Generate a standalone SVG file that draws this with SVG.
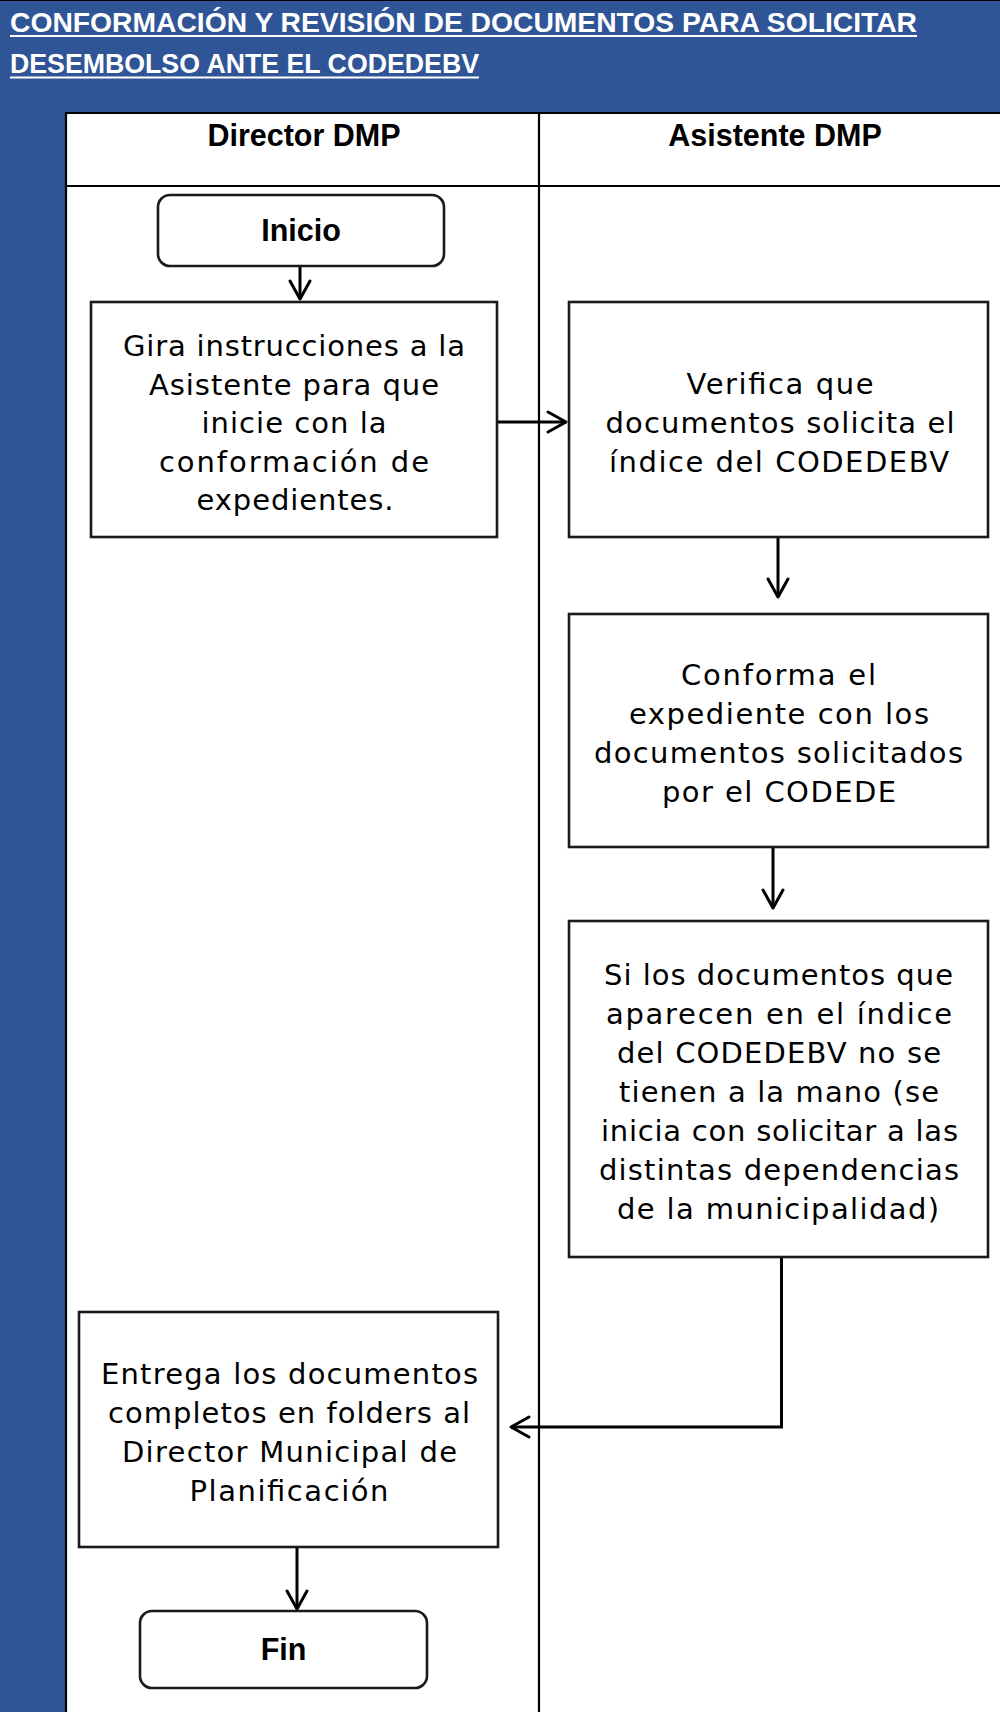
<svg xmlns="http://www.w3.org/2000/svg" width="1000" height="1712" viewBox="0 0 1000 1712">
<style>
.title{font-family:"Liberation Sans",Arial,sans-serif;font-weight:bold;font-size:28px;fill:#ffffff}
.lane{font-family:"Liberation Sans",Arial,sans-serif;font-weight:bold;font-size:30.5px;fill:#000;text-anchor:middle}
.term{font-family:"Liberation Sans",Arial,sans-serif;font-weight:bold;font-size:30.5px;fill:#000;text-anchor:middle}
.body{font-family:"DejaVu Sans","Liberation Sans",sans-serif;font-size:29px;fill:#000;text-anchor:middle}
.box{fill:#fff;stroke:#1a1a1a;stroke-width:2.6}
.rule{stroke:#000;stroke-width:2.2;fill:none}
.conn{stroke:#000;stroke-width:3;fill:none}
</style>
<defs>
<marker id="arr" markerUnits="userSpaceOnUse" markerWidth="26" markerHeight="26" refX="21" refY="13" orient="auto">
<path d="M3,3 L21,13 L3,23" fill="none" stroke="#000" stroke-width="3" stroke-linecap="round" stroke-linejoin="round"/>
</marker>
</defs>
<rect x="0" y="0" width="1000" height="1712" fill="#fff"/>
<g id="header">
<rect x="0" y="0" width="1000" height="112" fill="#2F5597"/>
<line x1="0" y1="0.5" x2="1000" y2="0.5" stroke="#000" stroke-width="1"/>
<text class="title" x="10" y="32" textLength="907" lengthAdjust="spacingAndGlyphs">CONFORMACIÓN Y REVISIÓN DE DOCUMENTOS PARA SOLICITAR</text>
<line x1="10" y1="36" x2="917" y2="36" stroke="#fff" stroke-width="2"/>
<text class="title" x="10" y="73" textLength="469" lengthAdjust="spacingAndGlyphs">DESEMBOLSO ANTE EL CODEDEBV</text>
<line x1="10" y1="77.5" x2="479" y2="77.5" stroke="#fff" stroke-width="2"/>
<rect x="0" y="112" width="66" height="1600" fill="#2F5597"/>
</g>
<g id="lanes">
<line class="rule" x1="66" y1="112" x2="66" y2="1712"/>
<line class="rule" x1="539" y1="112" x2="539" y2="1712"/>
<line class="rule" x1="66" y1="113" x2="1000" y2="113" stroke-width="3"/>
<line class="rule" x1="66" y1="186" x2="1000" y2="186" stroke-width="3"/>
<text class="lane" x="304" y="146">Director DMP</text>
<text class="lane" x="775" y="146">Asistente DMP</text>
</g>
<g id="connectors">
<line class="conn" x1="300" y1="266" x2="300" y2="299" marker-end="url(#arr)"/>
<line class="conn" x1="497" y1="422" x2="566" y2="422" marker-end="url(#arr)"/>
<line class="conn" x1="778" y1="537" x2="778" y2="597" marker-end="url(#arr)"/>
<line class="conn" x1="773" y1="847" x2="773" y2="908" marker-end="url(#arr)"/>
<polyline class="conn" points="781.5,1257 781.5,1427 511,1427" marker-end="url(#arr)"/>
<line class="conn" x1="297" y1="1547" x2="297" y2="1609" marker-end="url(#arr)"/>
</g>
<g id="inicio">
<rect class="box" x="158" y="195" width="286" height="71" rx="12" ry="12"/>
<text class="term" x="301" y="241">Inicio</text>
</g>
<g id="gira">
<rect class="box" x="91" y="302" width="406" height="235"/>
<text class="body" x="294" y="356" textLength="342">Gira instrucciones a la</text>
<text class="body" x="294" y="394.5" textLength="290">Asistente para que</text>
<text class="body" x="294" y="433" textLength="185">inicie con la</text>
<text class="body" x="294" y="471.5" textLength="270">conformación de</text>
<text class="body" x="295" y="510" textLength="197">expedientes.</text>
</g>
<g id="verifica">
<rect class="box" x="569" y="302" width="419" height="235"/>
<text class="body" x="780" y="394" textLength="187">Verifica que</text>
<text class="body" x="780" y="433" textLength="349">documentos solicita el</text>
<text class="body" x="779" y="472" textLength="340">índice del CODEDEBV</text>
</g>
<g id="conforma">
<rect class="box" x="569" y="614" width="419" height="233"/>
<text class="body" x="778.5" y="684.5" textLength="195">Conforma el</text>
<text class="body" x="779" y="723.5" textLength="300">expediente con los</text>
<text class="body" x="778.5" y="762.5" textLength="369">documentos solicitados</text>
<text class="body" x="779" y="801.5" textLength="234">por el CODEDE</text>
</g>
<g id="si-los">
<rect class="box" x="569" y="921" width="419" height="336"/>
<text class="body" x="778.5" y="985" textLength="349">Si los documentos que</text>
<text class="body" x="779" y="1024" textLength="346">aparecen en el índice</text>
<text class="body" x="779" y="1063" textLength="324">del CODEDEBV no se</text>
<text class="body" x="779" y="1102" textLength="320">tienen a la mano (se</text>
<text class="body" x="779.5" y="1141" textLength="357">inicia con solicitar a las</text>
<text class="body" x="779" y="1180" textLength="360">distintas dependencias</text>
<text class="body" x="778" y="1219" textLength="322">de la municipalidad)</text>
</g>
<g id="entrega">
<rect class="box" x="79" y="1312" width="419" height="235"/>
<text class="body" x="289.5" y="1384" textLength="377">Entrega los documentos</text>
<text class="body" x="289" y="1423" textLength="362">completos en folders al</text>
<text class="body" x="289.5" y="1462" textLength="335">Director Municipal de</text>
<text class="body" x="289" y="1501" textLength="199">Planificación</text>
</g>
<g id="fin">
<rect class="box" x="140" y="1611" width="287" height="77" rx="12" ry="12"/>
<text class="term" x="283.5" y="1660">Fin</text>
</g>
</svg>
